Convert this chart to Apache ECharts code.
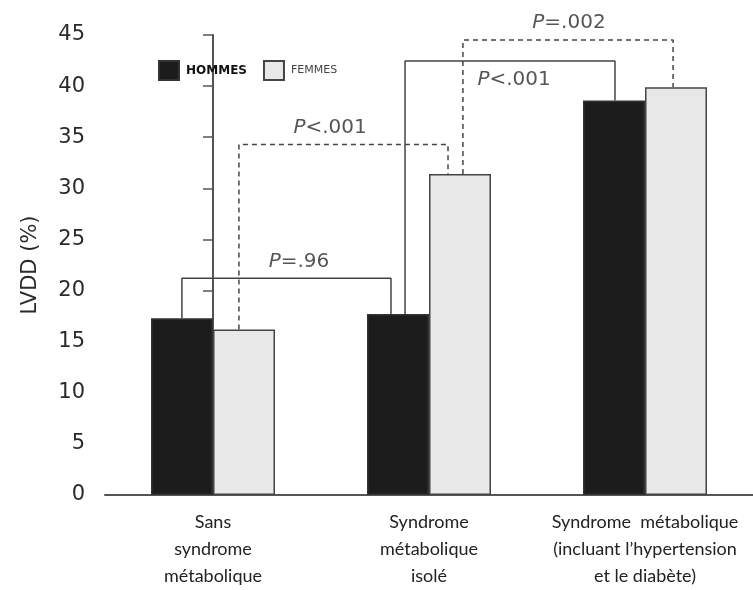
<!DOCTYPE html>
<html>
<head>
<meta charset="utf-8">
<script src="https://cdn.jsdelivr.net/npm/echarts@6/dist/echarts.min.js"></script>
<style>
  html, body { margin: 0; padding: 0; background: #fff; }
  #chart { width: 753px; height: 590px; }
</style>
</head>
<body>
<div id="chart"></div>
<script>
// données
const categories = [
  "Sans\nsyndrome\nmétabolique",
  "Syndrome\nmétabolique\nisolé",
  "Syndrome  métabolique\n(incluant l\u2019hypertension\net le diabète)",
];
const hommes = [17.3, 17.7, 38.6];
const femmes = [16.2, 31.4, 39.9];
const yTicks = [0, 5, 10, 15, 20, 25, 30, 35, 40, 45];

// comparaisons : niveau du crochet, pieds (en unités de catégorie), texte
const bracketLevel = [21.2, 34.3, 42.45, 44.5];
const bracketLegs = [[-0.144, 0.824], [0.12, 1.088], [0.889, 1.861], [1.157, 2.13]];
const bracketFeet = [
  [hommes[0], hommes[1]],
  [femmes[0], femmes[1]],
  [hommes[1], hommes[2]],
  [femmes[1], femmes[2]],
];
const bracketDashed = [false, true, false, true];
const pText = ["=.96", "<.001", "<.001", "=.002"];
const pX = [0.398, 0.542, 1.394, 1.648];
const pY = [22.8, 35.9, 40.6, 46.2];

let chart = echarts.init(document.getElementById("chart"));

const axisColor = "#555";
const num = "DejaVu Sans";

let bracketSeries = bracketLevel.map((lvl, i) => {
  let x0 = bracketLegs[i][0];
  let x1 = bracketLegs[i][1];
  return {
    type: "line",
    xAxisIndex: 1,
    silent: true,
    symbol: "none",
    z: 3,
    lineStyle: {
      color: "#444",
      width: 1.5,
      type: bracketDashed[i] ? [5, 4] : "solid",
    },
    data: [
      [x0, bracketFeet[i][0]],
      [x0, lvl],
      [x1, lvl],
      [x1, bracketFeet[i][1]],
    ],
  };
});

let option = {
  animation: false,
  backgroundColor: "#fff",
  legend: {
    left: 153,
    top: 55,
    icon: "rect",
    itemWidth: 20,
    itemHeight: 19,
    itemGap: 16,
    data: [
      { name: "HOMMES", textStyle: { fontWeight: "bold", fontSize: 12, color: "#111" } },
      { name: "FEMMES", textStyle: { fontSize: 11, color: "#444" } },
    ],
    textStyle: { fontFamily: num, padding: [0, 0, 0, 2] },
  },
  grid: { left: 105, right: 0, top: 35, bottom: 93 },
  xAxis: [
    {
      type: "category",
      data: categories,
      axisLine: { lineStyle: { color: axisColor, width: 2 } },
      axisTick: { length: 7, lineStyle: { color: axisColor, width: 1.5 } },
      axisLabel: {
        color: "#222",
        fontFamily: "Lato",
        fontSize: 18,
        lineHeight: 27,
        margin: 14,
        interval: 0,
      },
    },
    {
      type: "value",
      min: -0.5,
      max: 2.5,
      show: false,
    },
  ],
  yAxis: {
    type: "value",
    min: 0,
    max: 45,
    interval: 5,
    name: "LVDD (%)",
    nameLocation: "middle",
    nameGap: 64,
    nameTextStyle: { fontFamily: num, fontSize: 21, color: "#2a2a2a" },
    axisLine: { show: true, lineStyle: { color: axisColor, width: 2 } },
    axisTick: { show: true, length: 10, lineStyle: { color: axisColor, width: 1.5 } },
    splitLine: { show: false },
    axisLabel: {
      color: "#2a2a2a",
      fontFamily: num,
      fontSize: 21,
      margin: 20,
      formatter: (v) => (yTicks.includes(v) ? String(v) : ""),
    },
  },
  series: [
    {
      name: "HOMMES",
      type: "bar",
      data: hommes,
      barWidth: 62,
      barGap: "0%",
      itemStyle: { color: "#1c1c1c", borderColor: "#333", borderWidth: 1.5 },
    },
    {
      name: "FEMMES",
      type: "bar",
      data: femmes,
      barWidth: 62,
      itemStyle: { color: "#e8e8e8", borderColor: "#444", borderWidth: 1.5 },
    },
    ...bracketSeries,
    {
      // étiquettes P
      type: "scatter",
      xAxisIndex: 1,
      silent: true,
      clip: false,
      symbolSize: 0,
      z: 4,
      data: pText.map((t, i) => [pX[i], pY[i], t]),
      label: {
        show: true,
        position: "inside",
        formatter: (p) => "{i|P}{n|" + p.data[2] + "}",
        rich: {
          i: { fontFamily: num, fontSize: 20, fontStyle: "italic", color: "#2a2a2a" },
          n: { fontFamily: num, fontSize: 20, color: "#2a2a2a" },
        },
      },
    },
  ],
};

chart.setOption(option);
</script>
</body>
</html>
